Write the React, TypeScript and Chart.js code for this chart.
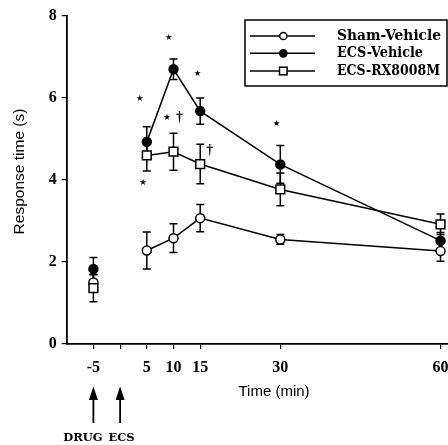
import React, { useEffect, useRef } from "react";
import { Chart, registerables } from "chart.js";

Chart.register(...registerables);

// ---- data ----
const TIMES = [-5, 5, 10, 15, 30, 60];
const SHAM = [1.5, 2.28, 2.58, 3.07, 2.55, 2.27];
const SHAM_ERR = [0.2, 0.45, 0.35, 0.33, 0.12, 0.25];
const ECS = [1.83, 4.93, 6.7, 5.68, 4.38, 2.52];
const ECS_ERR = [0.28, 0.37, 0.25, 0.32, 0.46, 0.2];
const RX = [1.36, 4.6, 4.69, 4.39, 3.77, 2.92];
const RX_ERR = [0.33, 0.38, 0.45, 0.48, 0.4, 0.25];
const SERIES_NAMES = ["Sham-Vehicle", "ECS-Vehicle", "ECS-RX8008M"];
const X_TICKS = [-5, 0, 5, 10, 15, 30, 60];
const Y_TICKS = [0, 2, 4, 6, 8];
const EVENT_TIMES = [-5, 0];
const EVENT_LABELS = ["DRUG", "ECS"];
const SIG_X = [9.1, 3.7, 8.8, 11.1, 14.5, 16.8, 4.3, 29.3];
const SIG_Y = [7.48, 5.98, 5.52, 5.52, 6.6, 4.73, 3.93, 5.38];
const SIG_TEXT = ["★", "★", "★", "†", "★", "†", "★", "★"];

const SERIF = "'Liberation Serif', 'Times New Roman', serif";
const SANS = "'Liberation Sans', Arial, sans-serif";
const LEGEND_FONT = "bold 14.3px 'DejaVu Serif', serif";
const LEGEND_MAXW = [104, 86, 103];

const toPts = (vals: number[]) => TIMES.map((t, i) => ({ x: t, y: vals[i] }));
const hideBeforeZero = (ctx: any) => (ctx.p0.parsed.x < 0 ? "rgba(0,0,0,0)" : "#000");

const overlay = {
  id: "overlay",
  beforeDatasetsDraw(chart: any) {
    const { ctx, scales } = chart;
    const x = scales.x, y = scales.y;
    ctx.save();
    ctx.strokeStyle = "#000";
    ctx.lineWidth = 1.5;
    const groups: [number[], number[]][] = [[SHAM, SHAM_ERR], [ECS, ECS_ERR], [RX, RX_ERR]];
    groups.forEach(([v, e]) => {
      TIMES.forEach((t, i) => {
        const px = x.getPixelForValue(t);
        const top = y.getPixelForValue(v[i] + e[i]);
        const bot = y.getPixelForValue(v[i] - e[i]);
        ctx.beginPath();
        ctx.moveTo(px, top); ctx.lineTo(px, bot);
        ctx.moveTo(px - 4, top); ctx.lineTo(px + 4, top);
        ctx.moveTo(px - 4, bot); ctx.lineTo(px + 4, bot);
        ctx.stroke();
      });
    });
    ctx.restore();
  },
  afterDraw(chart: any) {
    const { ctx, scales } = chart;
    const x = scales.x, y = scales.y;
    ctx.save();
    ctx.fillStyle = "#000";
    ctx.strokeStyle = "#000";

    // y title
    ctx.save();
    ctx.translate(19.5, 171.5);
    ctx.rotate(-Math.PI / 2);
    ctx.font = `15.5px ${SANS}`;
    ctx.textAlign = "center";
    ctx.textBaseline = "middle";
    ctx.fillText("Response time (s)", 0, 0);
    ctx.restore();

    // x title
    ctx.font = `15px ${SANS}`;
    ctx.textAlign = "center";
    ctx.textBaseline = "middle";
    ctx.fillText("Time (min)", 274, 392);

    // event arrows
    EVENT_TIMES.forEach((t, i) => {
      const px = x.getPixelForValue(t);
      ctx.lineWidth = 1.8;
      ctx.beginPath();
      ctx.moveTo(px, 398); ctx.lineTo(px, 423);
      ctx.stroke();
      ctx.beginPath();
      ctx.moveTo(px, 386.5); ctx.lineTo(px - 4.5, 400); ctx.lineTo(px + 4.5, 400);
      ctx.closePath();
      ctx.fill();
      ctx.font = `bold 11.5px 'DejaVu Serif', serif`;
      ctx.textAlign = "center";
      ctx.textBaseline = "middle";
      ctx.fillText(EVENT_LABELS[i], i === 0 ? 83 : 121.5, 438);
    });

    // significance marks
    ctx.textAlign = "center";
    ctx.textBaseline = "middle";
    SIG_TEXT.forEach((s, i) => {
      ctx.font = s === "★" ? `8.5px 'DejaVu Sans', sans-serif` : `bold 14px ${SERIF}`;
      ctx.fillText(s, x.getPixelForValue(SIG_X[i]), y.getPixelForValue(SIG_Y[i]));
    });

    // legend
    ctx.lineWidth = 1.5;
    ctx.strokeRect(245, 20, 202, 66);
    const rows = [36, 53.3, 71];
    rows.forEach((ry, i) => {
      ctx.lineWidth = 1.5;
      ctx.beginPath();
      ctx.moveTo(250, ry); ctx.lineTo(315, ry);
      ctx.stroke();
      if (i === 2) {
        ctx.fillStyle = "#fff";
        ctx.fillRect(279.5, ry - 3.8, 7.6, 7.6);
        ctx.strokeRect(279.5, ry - 3.8, 7.6, 7.6);
      } else {
        ctx.beginPath();
        ctx.arc(283.3, ry, 3.6, 0, Math.PI * 2);
        ctx.fillStyle = i === 0 ? "#fff" : "#000";
        ctx.fill();
        ctx.stroke();
      }
      ctx.fillStyle = "#000";
      ctx.font = LEGEND_FONT;
      ctx.textAlign = "left";
      ctx.textBaseline = "middle";
      ctx.fillText(SERIES_NAMES[i], 337, ry, LEGEND_MAXW[i]);
    });
    ctx.restore();
  },
};

export default function App() {
  const ref = useRef<HTMLCanvasElement | null>(null);
  useEffect(() => {
    if (!ref.current) return;
    const common = {
      borderColor: "#000",
      borderWidth: 1.5,
      pointBorderColor: "#000",
      pointBorderWidth: 1.5,
      segment: { borderColor: hideBeforeZero },
      showLine: true,
      clip: false,
    };
    const chart = new Chart(ref.current, {
      type: "line",
      data: {
        datasets: [
          { ...common, label: SERIES_NAMES[0], data: toPts(SHAM), pointStyle: "circle", pointRadius: 4.5, pointBackgroundColor: "#fff", order: 3 },
          { ...common, label: SERIES_NAMES[1], data: toPts(ECS), pointStyle: "circle", pointRadius: 4.5, pointBackgroundColor: "#000", order: 2 },
          { ...common, label: SERIES_NAMES[2], data: toPts(RX), pointStyle: "rect", pointRadius: 6.2, pointBackgroundColor: "#fff", order: 1 },
        ] as any,
      },
      options: {
        animation: false,
        responsive: false,
        layout: { autoPadding: false, padding: { top: 16, right: 0, left: 0, bottom: 0 } },
        plugins: { legend: { display: false }, tooltip: { enabled: false } },
        scales: {
          x: {
            type: "linear",
            min: -10,
            max: 61.4,
            afterFit: (s: any) => { s.height = 101; s.paddingLeft = 0; s.paddingRight = 0; },
            afterBuildTicks: (s: any) => { s.ticks = X_TICKS.map((v) => ({ value: v })); },
            grid: { drawOnChartArea: false, drawTicks: true, tickLength: 5, color: "#000", lineWidth: 1.2 },
            border: { display: true, color: "#000", width: 1.8 },
            ticks: {
              color: "#000",
              font: { family: SERIF, size: 16, weight: "bold" },
              padding: 9,
              maxRotation: 0,
              autoSkip: false,
              callback: (v: any) => (v === 0 ? "" : String(v)),
            },
          },
          y: {
            type: "linear",
            min: 0,
            max: 8,
            afterFit: (s: any) => { s.width = 66.7; },
            afterBuildTicks: (s: any) => { s.ticks = Y_TICKS.map((v) => ({ value: v })); },
            grid: { drawOnChartArea: false, drawTicks: true, tickLength: 5, color: "#000", lineWidth: 1.2 },
            border: { display: true, color: "#000", width: 1.8 },
            ticks: {
              color: "#000",
              font: { family: SERIF, size: 16, weight: "bold" },
              padding: 5,
            },
          },
        },
      } as any,
      plugins: [overlay],
    });
    return () => chart.destroy();
  }, []);
  return (
    <div style={{ position: "fixed", left: 0, top: 0, width: 448, height: 445, background: "#fff" }}>
      <canvas ref={ref} width={448} height={445} style={{ display: "block" }} />
    </div>
  );
}
